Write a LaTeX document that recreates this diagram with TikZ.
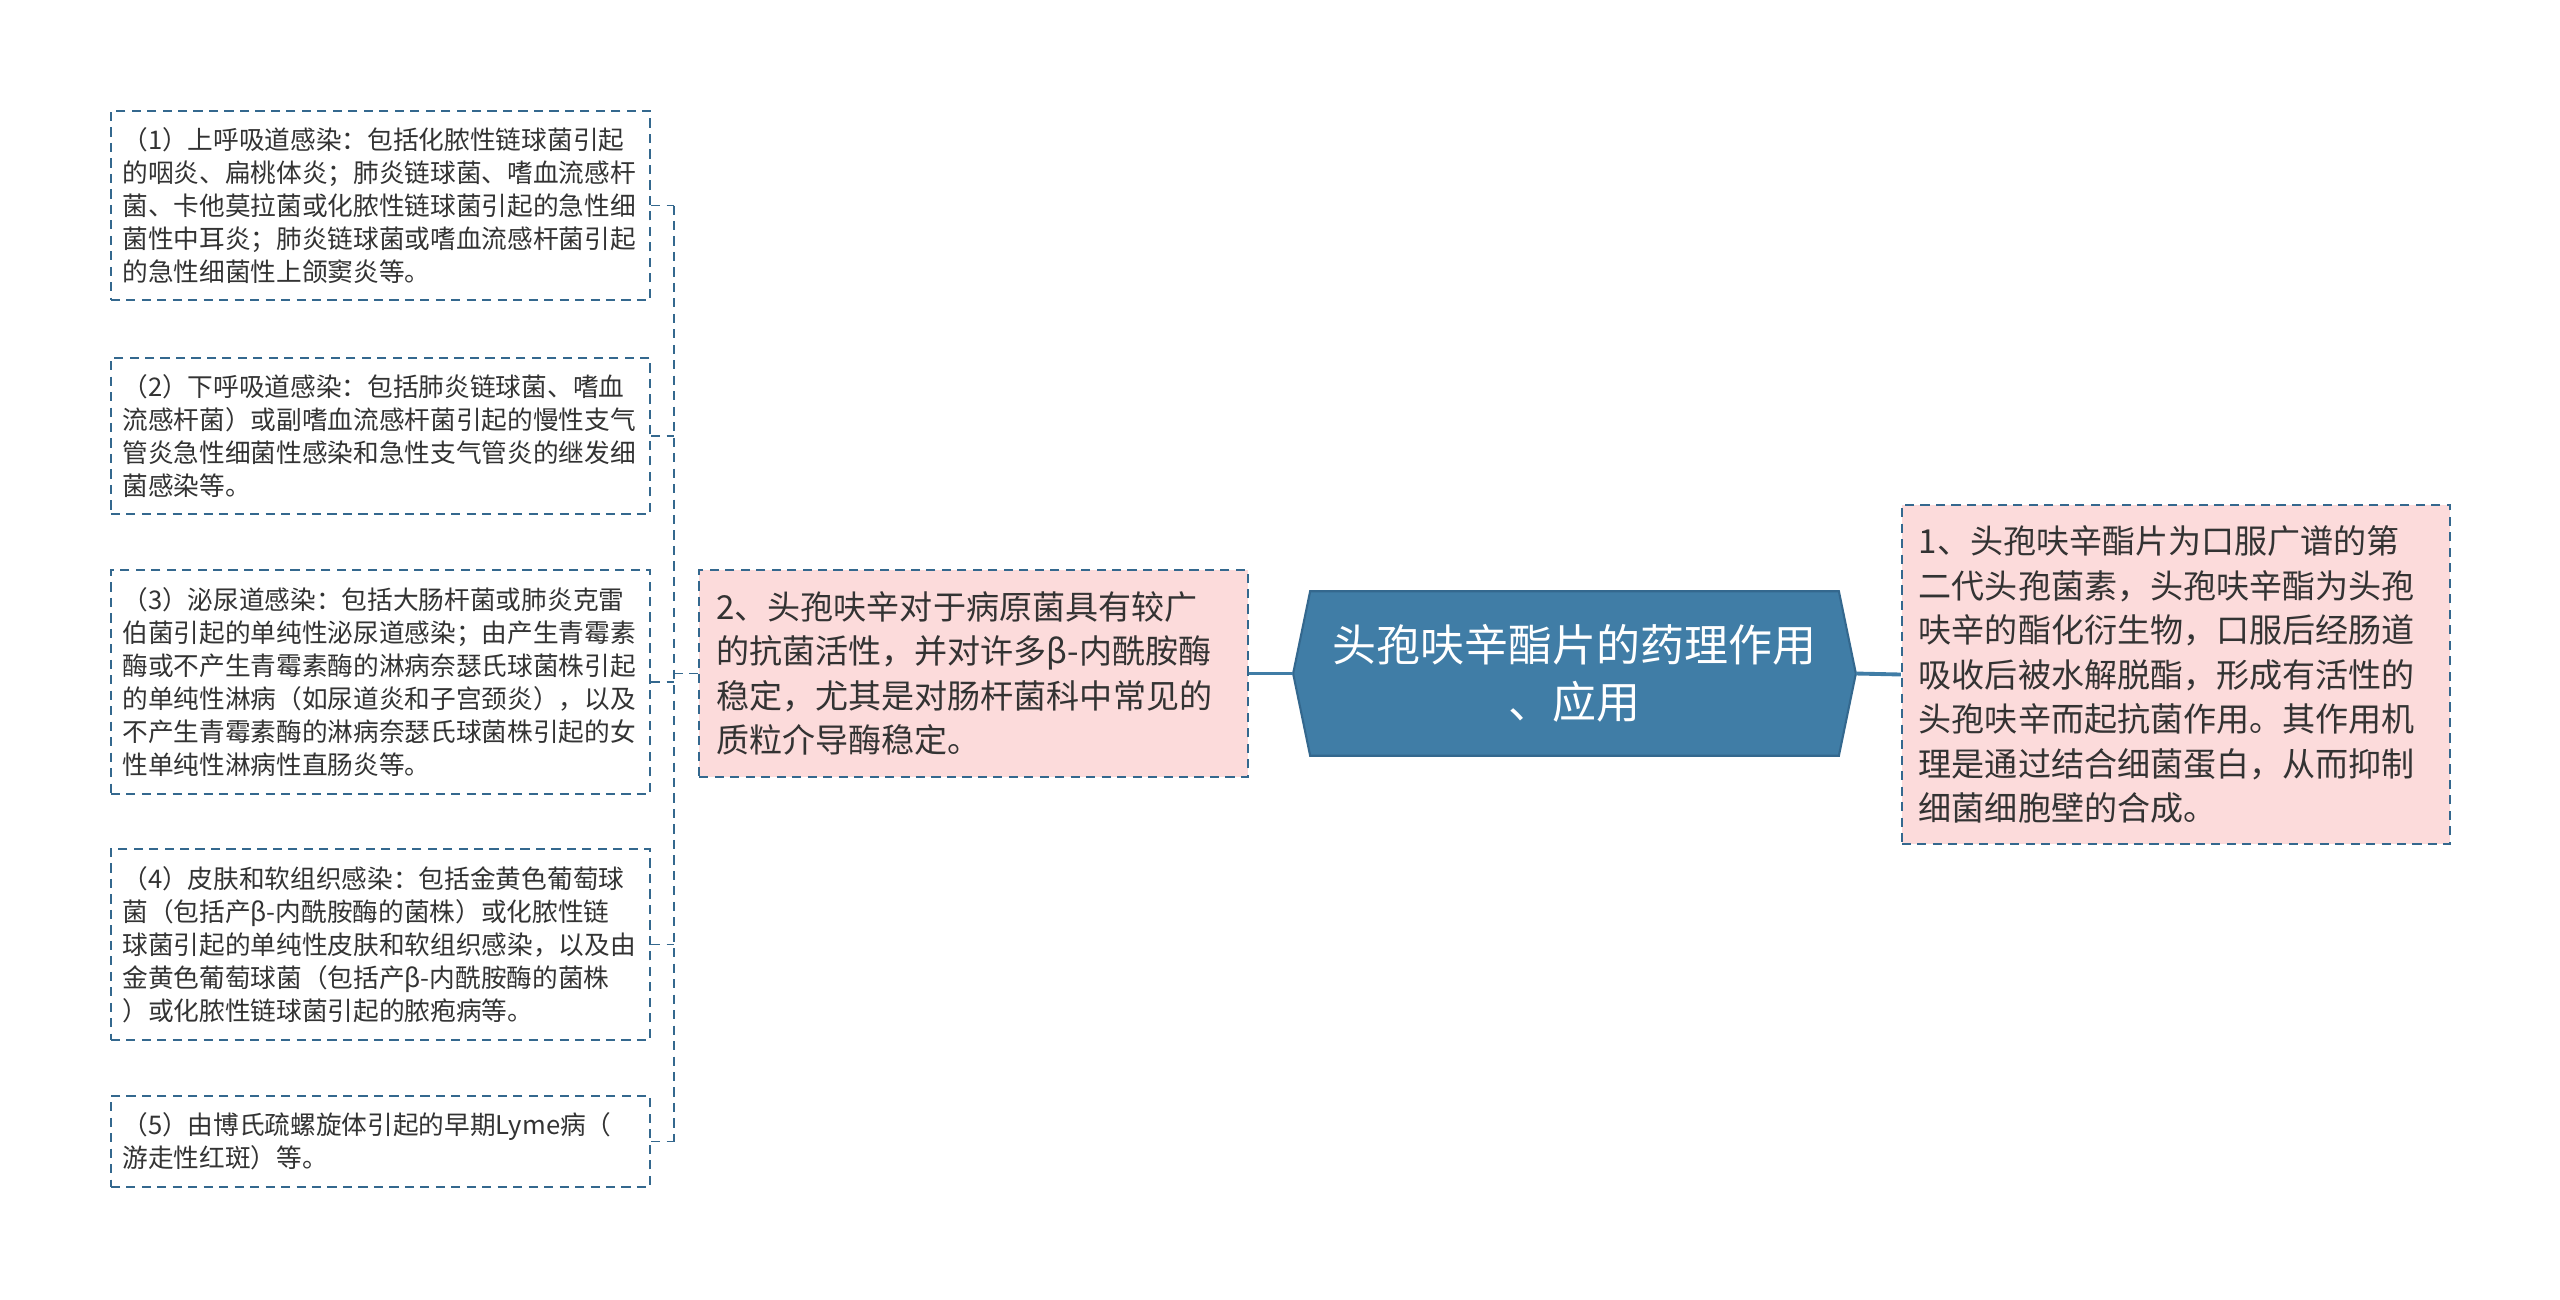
\documentclass[tikz,border=0pt]{standalone}
\usepackage{fontspec}
\setmainfont{Noto Sans CJK SC}
\usetikzlibrary{backgrounds}

\definecolor{ccblue}{RGB}{64,125,166}
\definecolor{ccedge}{RGB}{52,104,142}
\definecolor{ccpink}{RGB}{252,219,219}
\definecolor{cctext}{RGB}{51,51,51}

\tikzset{
  leafbox/.style={draw=ccedge, line width=0.55pt, dash pattern=on 2.6pt off 1.8pt,
    fill=white, text=cctext, font=\fontsize{7.3}{9.4}\selectfont, align=left,
    inner xsep=0.115cm, inner ysep=0pt, text width=5.16cm},
  mainbox/.style={leafbox, fill=ccpink, font=\fontsize{9.4}{12.65}\selectfont,
    inner xsep=0.17cm, text width=5.14cm},
  leaflink/.style={draw=ccedge, line width=0.55pt, dash pattern=on 2.6pt off 1.8pt},
  mainlink/.style={draw=ccblue, line width=1.1pt}
}

\begin{document}
\begin{tikzpicture}[x=0.01cm, y=-0.01cm]

  \useasboundingbox (0,0) rectangle (2560,1299);

  % Root
  \node[minimum width=5.61cm, minimum height=1.63cm, inner sep=0pt, align=center,
    text=white, font=\fontsize{12.5}{16.2}\selectfont] (title) at (1574.5,673.5)
    {头孢呋辛酯片的药理作用\\、应用};
  \begin{scope}[on background layer]
    \draw[fill=ccblue, draw=ccedge, line width=0.6pt]
      ([xshift=0.17cm]title.north west) -- ([xshift=-0.17cm]title.north east)
      -- (title.east) -- ([xshift=-0.17cm]title.south east)
      -- ([xshift=0.17cm]title.south west) -- (title.west) -- cycle;
  \end{scope}

  % Main branches
  \node[mainbox, minimum height=3.39cm] (mech) at (2176,674.5)
    {1、头孢呋辛酯片为口服广谱的第\\二代头孢菌素，头孢呋辛酯为头孢\\呋辛的酯化衍生物，口服后经肠道\\吸收后被水解脱酯，形成有活性的\\头孢呋辛而起抗菌作用。其作用机\\理是通过结合细菌蛋白，从而抑制\\细菌细胞壁的合成。};
  \node[mainbox, minimum height=2.07cm] (use) at (973.5,673.5)
    {2、头孢呋辛对于病原菌具有较广\\的抗菌活性，并对许多β-内酰胺酶\\稳定，尤其是对肠杆菌科中常见的\\质粒介导酶稳定。};

  % Leaves
  \node[leafbox, minimum height=1.89cm] (u1) at (380.5,205.5)
    {（1）上呼吸道感染：包括化脓性链球菌引起\\的咽炎、扁桃体炎；肺炎链球菌、嗜血流感杆\\菌、卡他莫拉菌或化脓性链球菌引起的急性细\\菌性中耳炎；肺炎链球菌或嗜血流感杆菌引起\\的急性细菌性上颌窦炎等。};
  \node[leafbox, minimum height=1.56cm] (u2) at (380.5,436)
    {（2）下呼吸道感染：包括肺炎链球菌、嗜血\\流感杆菌）或副嗜血流感杆菌引起的慢性支气\\管炎急性细菌性感染和急性支气管炎的继发细\\菌感染等。};
  \node[leafbox, minimum height=2.24cm] (u3) at (380.5,682)
    {（3）泌尿道感染：包括大肠杆菌或肺炎克雷\\伯菌引起的单纯性泌尿道感染；由产生青霉素\\酶或不产生青霉素酶的淋病奈瑟氏球菌株引起\\的单纯性淋病（如尿道炎和子宫颈炎），以及\\不产生青霉素酶的淋病奈瑟氏球菌株引起的女\\性单纯性淋病性直肠炎等。};
  \node[leafbox, minimum height=1.91cm] (u4) at (380.5,944.5)
    {（4）皮肤和软组织感染：包括金黄色葡萄球\\菌（包括产β-内酰胺酶的菌株）或化脓性链\\球菌引起的单纯性皮肤和软组织感染，以及由\\金黄色葡萄球菌（包括产β-内酰胺酶的菌株\\）或化脓性链球菌引起的脓疱病等。};
  \node[leafbox, minimum height=0.91cm] (u5) at (380.5,1141.5)
    {（5）由博氏疏螺旋体引起的早期Lyme病（\\游走性红斑）等。};

  % Links
  \draw[mainlink] (title.east) -- (mech.west);
  \draw[mainlink] (title.west) -- (use.east);

  \coordinate (spine) at (674,673.5);
  \draw[leaflink] (use.west) -- (spine);
  \draw[leaflink] (u1.east -| spine) -- (u5.east -| spine);
  \foreach \leaf in {u1,u2,u3,u4,u5}
    \draw[leaflink] (\leaf.east) -- (\leaf.east -| spine);

\end{tikzpicture}
\end{document}
